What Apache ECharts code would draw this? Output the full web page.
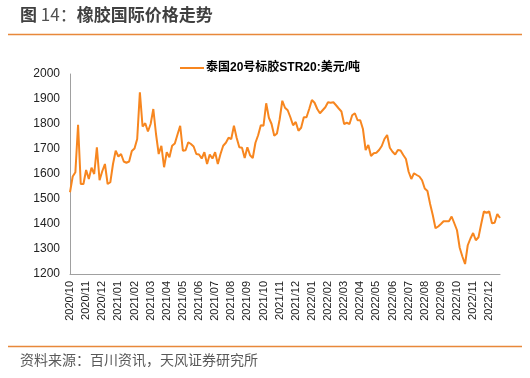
<!DOCTYPE html>
<html>
<head>
<meta charset="utf-8">
<script src="https://cdn.jsdelivr.net/npm/echarts@6/dist/echarts.min.js"></script>
<style>
html,body{margin:0;padding:0;background:#fff;}
#c{width:530px;height:378px;}
</style>
</head>
<body>
<div id="c"></div>
<script>
// Month tick labels (x axis)
var months = ['2020/10','2020/11','2020/12','2021/01','2021/02','2021/03','2021/04','2021/05','2021/06',
  '2021/07','2021/08','2021/09','2021/10','2021/11','2021/12','2022/01','2022/02','2022/03','2022/04',
  '2022/05','2022/06','2022/07','2022/08','2022/09','2022/10','2022/11','2022/12'];
// Sample days within each month (about every 5 days)
var sampleDays = ['01','06','11','16','21','26'];
// 泰国20号标胶STR20 price, USD/ton (~5-day steps)
var str20 = [
  1527,1590,1607,1797,1560,1560,   // 2020/10
  1616,1580,1625,1600,1707,1575,   // 2020/11
  1611,1640,1560,1567,1640,1693,   // 2020/12
  1670,1680,1650,1645,1650,1692,   // 2021/01
  1702,1740,1927,1790,1803,1770,   // 2021/02
  1800,1860,1760,1680,1713,1627,   // 2021/03
  1687,1667,1713,1722,1758,1793,   // 2021/04
  1693,1695,1727,1720,1710,1680,   // 2021/05
  1678,1662,1687,1640,1678,1662,   // 2021/06
  1687,1640,1680,1713,1725,1745,   // 2021/07
  1740,1793,1745,1707,1705,1664,   // 2021/08
  1707,1675,1664,1725,1755,1795,   // 2021/09
  1793,1883,1825,1800,1753,1762,   // 2021/10
  1818,1893,1865,1855,1827,1795,   // 2021/11
  1808,1773,1785,1827,1827,1860,   // 2021/12
  1896,1885,1860,1843,1855,1867,   // 2022/01
  1887,1885,1887,1875,1862,1850,   // 2022/02
  1800,1805,1800,1835,1843,1815,   // 2022/03
  1815,1780,1696,1716,1672,1683,   // 2022/04
  1685,1696,1712,1740,1756,1705,   // 2022/05
  1689,1678,1696,1694,1676,1660,   // 2022/06
  1609,1580,1603,1596,1590,1575,   // 2022/07
  1542,1532,1480,1435,1383,1390,   // 2022/08
  1400,1411,1411,1411,1430,1403,   // 2022/09
  1375,1305,1270,1240,1315,1342,   // 2022/10
  1364,1335,1347,1400,1450,1445,   // 2022/11
  1450,1403,1405,1440,1424         // 2022/12
];
var yTicks = {min:1200, max:2000, step:100};

var cats = [];
for (var m = 0; m < months.length; m++) {
  for (var d = 0; d < sampleDays.length; d++) {
    if (cats.length < str20.length) cats.push(months[m] + '/' + sampleDays[d]);
  }
}

var FONT = '"Liberation Sans", Arial, "Noto Sans CJK SC", sans-serif';
var CJK = '"Noto Sans CJK SC", sans-serif';
var chart = echarts.init(document.getElementById('c'), null, {renderer:'canvas'});
chart.setOption({
  animation:false,
  backgroundColor:'#fff',
  textStyle:{fontFamily:FONT},
  grid:{left:70, right:30, top:74, bottom:104, containLabel:false},
  legend:{
    data:[{name:'泰国20号标胶STR20:美元/吨', icon:'rect'}],
    left:175, top:57, itemWidth:24, itemHeight:2, itemGap:4,
    textStyle:{fontFamily:FONT, fontSize:12, fontWeight:'bold', color:'#000', padding:[0,0,0,-3]}
  },
  xAxis:{
    type:'category', data:cats, boundaryGap:false,
    axisLine:{lineStyle:{color:'#a0a0a0', width:1}},
    axisTick:{show:false},
    splitLine:{show:false},
    axisLabel:{
      rotate:90, fontSize:11, color:'#222', margin:7,
      interval:function(idx){ return idx % sampleDays.length === 0; },
      formatter:function(v){ return v.slice(0,7); }
    }
  },
  yAxis:{
    type:'value', min:yTicks.min, max:yTicks.max, interval:yTicks.step,
    axisLine:{show:true, lineStyle:{color:'#a0a0a0', width:1}},
    axisTick:{show:false},
    splitLine:{show:false},
    axisLabel:{fontSize:12, color:'#222', margin:10, formatter:function(v){ return String(v); }}
  },
  series:[{
    name:'泰国20号标胶STR20:美元/吨', type:'line', data:str20,
    showSymbol:false, symbol:'none',
    lineStyle:{color:'#F7861F', width:2},
    itemStyle:{color:'#F7861F'}
  }],
  graphic:[
    {type:'text', left:20, top:6, style:{
      text:'{b|图 }{n|14：}{b|橡胶国际价格走势}',
      rich:{
        b:{fontFamily:CJK, fontSize:17, fontWeight:'bold', fill:'#404040'},
        n:{fontFamily:CJK, fontSize:17, fill:'#505050'}
      }
    }},
    {type:'line', shape:{x1:8, y1:34.5, x2:522, y2:34.5}, style:{stroke:'#E8883A', lineWidth:1.5}},
    {type:'line', shape:{x1:8, y1:346.5, x2:522, y2:346.5}, style:{stroke:'#E8883A', lineWidth:1.5}},
    {type:'text', left:20, top:353, style:{
      text:'资料来源：百川资讯，天风证券研究所',
      fontFamily:CJK, fontSize:14, fill:'#595959'
    }}
  ]
});
</script>
</body>
</html>
